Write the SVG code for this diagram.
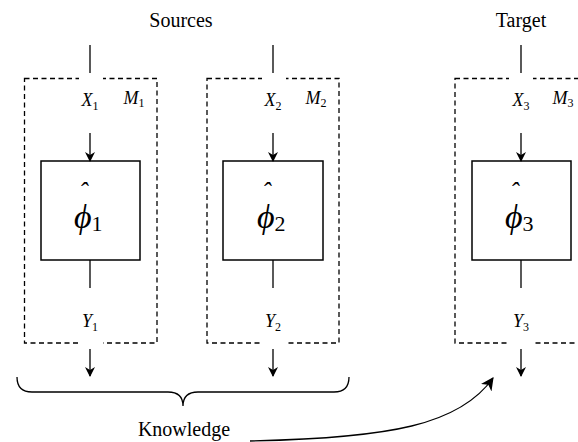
<svg xmlns="http://www.w3.org/2000/svg" width="578" height="442" viewBox="0 0 578 442">
<style>
text{font-family:"Liberation Serif","Times New Roman","DejaVu Serif",serif;fill:#000}
.it{font-style:italic}
.dash{fill:none;stroke:#000;stroke-width:1.3;stroke-dasharray:5,3.5}
.solid{fill:#fff;stroke:#000;stroke-width:1.5}
.ln{stroke:#000;stroke-width:1.3;fill:none}
.gap{fill:#fff;stroke:none}
.lbl{font-size:18px}
.sub{font-size:12px}
.phi{font-size:34px}
.hat{font-size:26px}
.phs{font-size:22px}
.title{font-size:20px}
</style>
<defs>
<marker id="ah" viewBox="0 0 10 10" refX="9" refY="5" markerWidth="10" markerHeight="10" markerUnits="userSpaceOnUse" orient="auto">
<path d="M0,0 L10,5 L0,10 L3,5 Z" fill="#000"/>
</marker>
<marker id="ah2" viewBox="0 0 12 12" refX="11" refY="6" markerWidth="13" markerHeight="13" markerUnits="userSpaceOnUse" orient="auto">
<path d="M0,0 L12,6 L0,12 L3.5,6 Z" fill="#000"/>
</marker>
</defs>
<text class="title" x="181" y="27" text-anchor="middle">Sources</text>
<text class="title" x="521" y="27" text-anchor="middle">Target</text>

<g id="M1">
<rect class="dash" x="24.5" y="78.5" width="132.5" height="264.5"/>
<rect class="gap" x="79" y="73" width="24" height="7"/>
<rect class="gap" x="79" y="342" width="24" height="7"/>
<text class="lbl" x="90" y="106" text-anchor="middle"><tspan class="it">X</tspan><tspan class="sub" dy="4">1</tspan></text>
<text class="lbl" x="134" y="104" text-anchor="middle"><tspan class="it">M</tspan><tspan class="sub" dy="3">1</tspan></text>
<rect class="solid" x="41" y="161" width="99" height="99"/>
<text class="phi"><tspan class="hat it" x="79" y="200">ˆ</tspan><tspan class="it" x="74" y="228">ϕ</tspan><tspan class="phs" dy="3">1</tspan></text>
<text class="lbl" x="90" y="327" text-anchor="middle"><tspan class="it">Y</tspan><tspan class="sub" dy="4">1</tspan></text>
</g>

<g id="M2">
<rect class="dash" x="207" y="78.5" width="132" height="264.5"/>
<rect class="gap" x="262" y="73" width="24" height="7"/>
<rect class="gap" x="262" y="342" width="24" height="7"/>
<text class="lbl" x="273" y="106" text-anchor="middle"><tspan class="it">X</tspan><tspan class="sub" dy="4">2</tspan></text>
<text class="lbl" x="316" y="104" text-anchor="middle"><tspan class="it">M</tspan><tspan class="sub" dy="3">2</tspan></text>
<rect class="solid" x="223" y="161" width="100" height="99"/>
<text class="phi"><tspan class="hat it" x="262" y="200">ˆ</tspan><tspan class="it" x="257" y="228">ϕ</tspan><tspan class="phs" dy="3">2</tspan></text>
<text class="lbl" x="273" y="327" text-anchor="middle"><tspan class="it">Y</tspan><tspan class="sub" dy="4">2</tspan></text>
</g>

<g id="M3">
<rect class="dash" x="455" y="78.5" width="140" height="264.5"/>
<rect class="gap" x="509" y="73" width="24" height="7"/>
<rect class="gap" x="509" y="342" width="24" height="7"/>
<text class="lbl" x="521" y="106" text-anchor="middle"><tspan class="it">X</tspan><tspan class="sub" dy="4">3</tspan></text>
<text class="lbl" x="563" y="104" text-anchor="middle"><tspan class="it">M</tspan><tspan class="sub" dy="3">3</tspan></text>
<rect class="solid" x="472" y="161" width="99" height="99"/>
<text class="phi"><tspan class="hat it" x="510" y="200">ˆ</tspan><tspan class="it" x="505" y="228">ϕ</tspan><tspan class="phs" dy="3">3</tspan></text>
<text class="lbl" x="521" y="327" text-anchor="middle"><tspan class="it">Y</tspan><tspan class="sub" dy="4">3</tspan></text>
</g>

<g id="knowledge">
<path class="ln" d="M17,377 Q17,392 32,392 L168,392 Q183,392 183,406 Q183,392 198,392 L334,392 Q349,392 349,377" stroke-width="1.5"/>
<text class="title" x="184" y="436" text-anchor="middle">Knowledge</text>
</g>

<g id="connectors">
<line class="ln" x1="90" y1="45" x2="90" y2="73"/>
<line class="ln" x1="90" y1="133" x2="90" y2="161" marker-end="url(#ah)"/>
<line class="ln" x1="90" y1="260" x2="90" y2="288"/>
<line class="ln" x1="90" y1="349" x2="90" y2="376" marker-end="url(#ah)"/>
<line class="ln" x1="273" y1="45" x2="273" y2="73"/>
<line class="ln" x1="273" y1="133" x2="273" y2="161" marker-end="url(#ah)"/>
<line class="ln" x1="273" y1="260" x2="273" y2="288"/>
<line class="ln" x1="273" y1="349" x2="273" y2="376" marker-end="url(#ah)"/>
<line class="ln" x1="521" y1="45" x2="521" y2="73"/>
<line class="ln" x1="521" y1="133" x2="521" y2="161" marker-end="url(#ah)"/>
<line class="ln" x1="521" y1="260" x2="521" y2="288"/>
<line class="ln" x1="521" y1="349" x2="521" y2="376" marker-end="url(#ah)"/>
<path class="ln" d="M250,441 C390,438 460,425 493,378" stroke-width="1.8" marker-end="url(#ah2)"/>
</g>
</svg>
